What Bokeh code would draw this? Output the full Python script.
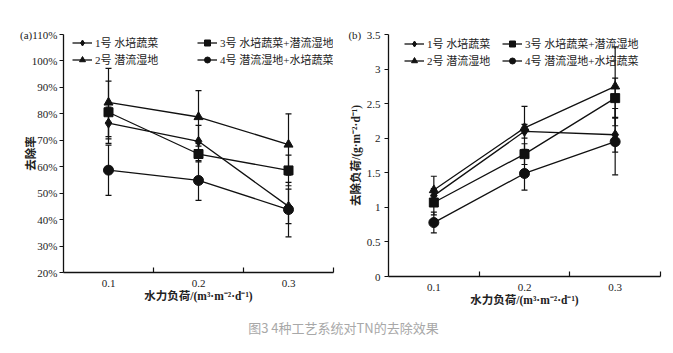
from bokeh.plotting import figure
from bokeh.models import (ColumnDataSource, Whisker, TeeHead, FixedTicker, Range1d,
                          CustomJSTickFormatter, Legend, LegendItem, Label)
from bokeh.layouts import row, column
from bokeh.embed import file_html
from bokeh.resources import INLINE

# ---------------- data ----------------
x_labels = ["0.1", "0.2", "0.3"]
x_pos = [1, 2, 3]
names = ["1号 水培蔬菜", "2号 潜流湿地", "3号 水培蔬菜+潜流湿地", "4号 潜流湿地+水培蔬菜"]
markers = ["diamond", "triangle", "square", "circle"]

# (a) removal rate, %
a_s1 = [76.5, 69.6, 45.0]
a_s2 = [84.3, 78.8, 68.4]
a_s3 = [80.6, 64.8, 58.6]
a_s4 = [58.7, 54.8, 43.8]
a_e1 = [6.0, 6.0, 6.5]
a_e2 = [12.9, 10.0, 11.6]
a_e3 = [11.8, 3.0, 5.8]
a_e4 = [9.5, 7.5, 10.3]

# (b) removal load, g/(m2*d)
b_s1 = [1.17, 2.10, 2.05]
b_s2 = [1.25, 2.15, 2.75]
b_s3 = [1.07, 1.77, 2.58]
b_s4 = [0.78, 1.49, 1.95]
b_e1 = [0.10, 0.10, 0.25]
b_e2 = [0.20, 0.31, 0.57]
b_e3 = [0.18, 0.15, 0.29]
b_e4 = [0.15, 0.24, 0.48]

FONT = "Liberation Serif, Noto Sans CJK SC"
TXT = "#222222"
LC = "#111111"
msize = {"diamond": 10, "triangle": 9, "square": 9, "circle": 10}


def make_panel(width, height, bl, br, bt, bb, yr, yticks, yfmt, series, errs,
               xtitle, ytitle, ystandoff, ylabstand):
    p = figure(width=width, height=height, output_backend="svg", toolbar_location=None,
               x_range=Range1d(0.5, 3.5), y_range=Range1d(*yr),
               min_border_left=bl, min_border_right=br, min_border_top=bt, min_border_bottom=bb)
    p.outline_line_color = None
    p.grid.visible = False
    p.background_fill_color = "white"
    p.border_fill_color = "white"

    xa = p.xaxis[0]
    xa.ticker = FixedTicker(ticks=x_pos, minor_ticks=[1.5, 2.5, 3.5])
    xa.major_label_overrides = {1: x_labels[0], 2: x_labels[1], 3: x_labels[2]}
    xa.major_tick_in = 0
    xa.major_tick_out = 0
    xa.minor_tick_in = 5
    xa.minor_tick_out = 0
    xa.major_label_standoff = 7
    xa.axis_label = xtitle
    xa.axis_label_standoff = 0
    ya = p.yaxis[0]
    ya.ticker = FixedTicker(ticks=yticks, minor_ticks=[])
    ya.formatter = CustomJSTickFormatter(code=yfmt)
    ya.major_tick_in = 0
    ya.major_tick_out = 4
    ya.major_label_standoff = ylabstand
    ya.axis_label = ytitle
    ya.axis_label_standoff = ystandoff
    for ax in (xa, ya):
        ax.axis_line_color = LC
        ax.axis_line_width = 1.3
        ax.major_tick_line_color = LC
        ax.minor_tick_line_color = LC
        ax.major_tick_line_width = 1.2
        ax.minor_tick_line_width = 1.2
        ax.major_label_text_font = FONT
        ax.major_label_text_font_size = "11px"
        ax.major_label_text_color = TXT
        ax.axis_label_text_font = FONT
        ax.axis_label_text_font_size = "11.5px"
        ax.axis_label_text_font_style = "bold"
        ax.axis_label_text_color = TXT

    items = []
    for vals, err, mk, nm in zip(series, errs, markers, names):
        src = ColumnDataSource(dict(x=x_pos, y=vals,
                                    lo=[v - e for v, e in zip(vals, err)],
                                    hi=[v + e for v, e in zip(vals, err)]))
        w = Whisker(source=src, base="x", upper="hi", lower="lo", dimension="height",
                    line_color=LC, line_width=1.2,
                    upper_head=TeeHead(size=6, line_color=LC, line_width=1.2),
                    lower_head=TeeHead(size=6, line_color=LC, line_width=1.2))
        p.add_layout(w)
        lr = p.line("x", "y", source=src, line_color=LC, line_width=1.3)
        sr = p.scatter("x", "y", source=src, marker=mk, size=msize[mk],
                       fill_color=LC, line_color=LC)
        items.append(LegendItem(label=nm, renderers=[lr, sr]))
    return p, items


def add_legends(p, items, x1, x2, y):
    for its, xx in ((items[0:2], x1), (items[2:4], x2)):
        lg = Legend(items=its, location=(xx, y), orientation="vertical",
                    label_text_font=FONT, label_text_font_size="11px", label_text_color=TXT,
                    label_height=15, glyph_height=15, glyph_width=20, label_standoff=3,
                    spacing=1, padding=0, margin=0, border_line_color=None,
                    background_fill_alpha=0)
        p.add_layout(lg)


HA = 310
HB = 314
# ---------- panel (a) ----------
pa, ia = make_panel(336, HA, 63, 3, 34, HA - 272, (20, 110), list(range(20, 111, 10)),
                    "return (tick == 110 ? '(a)' : '') + tick + '%';",
                    [a_s1, a_s2, a_s3, a_s4], [a_e1, a_e2, a_e3, a_e4],
                    "水力负荷/(m³·m⁻²·d⁻¹)", "去除率", -20, 2)
add_legends(pa, ia, 9, 134, 205)

# ---------- panel (b) ----------
pb, ib = make_panel(337, HB, 52, 13, 34, HB - 276, (0, 3.5), [0, 0.5, 1, 1.5, 2, 2.5, 3, 3.5],
                    "return (tick == 3.5 ? '(b)\u00a0\u00a0' : '') + tick.toString();",
                    [b_s1, b_s2, b_s3, b_s4], [b_e1, b_e2, b_e3, b_e4],
                    "水力负荷/(m³·m⁻²·d⁻¹)", "去除负荷/(g·m⁻²·d⁻¹)", -17, 4)
add_legends(pb, ib, 16, 114, 208)

# ---------- caption ----------
HC = 353 - HB
pc = figure(width=673, height=HC, output_backend="svg", toolbar_location=None,
            x_range=Range1d(0, 673), y_range=Range1d(0, HC),
            min_border=0, min_border_left=0, min_border_right=0, min_border_top=0,
            min_border_bottom=0)
pc.axis.visible = False
pc.grid.visible = False
pc.outline_line_color = None
pc.add_layout(Label(x=343, y=HC - 13, text="图3 4种工艺系统对TN的去除效果",
                    text_font="Noto Sans CJK SC", text_font_size="13px",
                    text_color="#a8a8a8", text_align="center", text_baseline="middle"))

layout = column(row(pa, pb), pc)
open("out.html", "w").write(file_html(layout, INLINE))
